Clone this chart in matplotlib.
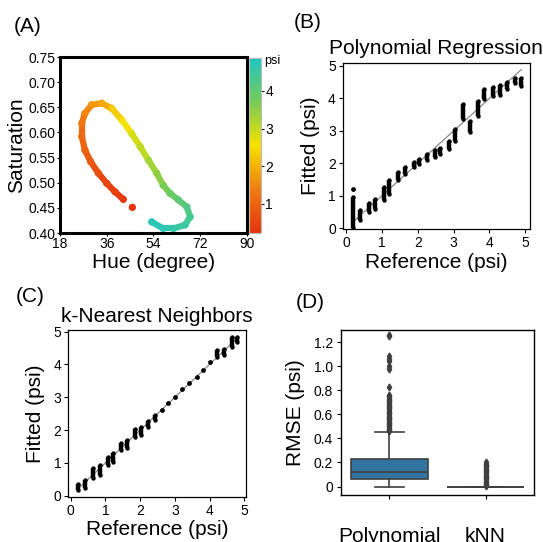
import matplotlib
matplotlib.use("Agg")
import matplotlib.pyplot as plt
from matplotlib.colors import LinearSegmentedColormap
from matplotlib.collections import LineCollection
import numpy as np

plt.rcParams['font.family'] = ['Liberation Sans', 'DejaVu Sans']

# (A) hue / saturation track, coloured by pressure
hue = [45.9, 42.4, 39.2, 36.0, 32.8, 29.8, 27.6, 26.4, 26.4, 27.6, 30.2, 34.1, 37.9, 41.8,
       45.6, 48.9, 52.1, 55.3, 57.8, 60.4, 63.6, 66.9, 68.2, 66.2, 61.7, 57.8, 53.4]
sat = [0.451, 0.467, 0.482, 0.499, 0.519, 0.542, 0.565, 0.592, 0.618, 0.638, 0.655, 0.658,
       0.648, 0.625, 0.598, 0.572, 0.545, 0.519, 0.495, 0.479, 0.466, 0.452, 0.432, 0.416,
       0.409, 0.409, 0.422]
psi = [0.25, 0.35, 0.45, 0.55, 0.7, 0.85, 1.0, 1.15, 1.3, 1.5, 1.7, 1.95, 2.3, 2.6,
       2.85, 3.05, 3.3, 3.5, 3.7, 3.85, 4.05, 4.2, 4.35, 4.5, 4.6, 4.7, 4.8]
cbar_ticks = [1, 2, 3, 4]

# (B) polynomial regression: reference value, fitted min, fitted max
poly_ref = [0.2, 0.4, 0.63, 0.82, 1.05, 1.19, 1.45, 1.65, 1.89, 2.04, 2.26, 2.47,
            2.63, 2.86, 3.05, 3.25, 3.47, 3.68, 3.86, 4.09, 4.30, 4.49, 4.72, 4.89]
poly_lo = [0.0, 0.26, 0.51, 0.61, 0.87, 1.07, 1.48, 1.68, 1.89, 1.99, 2.09, 2.19,
           2.30, 2.45, 2.70, 3.37, 2.96, 3.47, 3.98, 4.08, 4.11, 4.29, 4.49, 4.39]
poly_hi = [0.97, 0.56, 0.77, 0.90, 1.28, 1.48, 1.73, 1.89, 2.04, 2.14, 2.28, 2.40,
           2.47, 2.70, 3.06, 3.83, 3.32, 3.93, 4.29, 4.36, 4.42, 4.52, 4.64, 4.64]
poly_extra_x = [0.2]
poly_extra_y = [1.22]

# (C) k-nearest neighbours
knn_ref = [0.22, 0.41, 0.65, 0.84, 1.06, 1.23, 1.44, 1.61, 1.85, 2.02, 2.24, 2.43,
           2.62, 2.81, 3.00, 3.22, 3.42, 3.63, 3.80, 4.01, 4.22, 4.41, 4.64, 4.80]
knn_lo = [0.17, 0.22, 0.53, 0.63, 0.93, 1.04, 1.39, 1.44, 1.80, 1.85, 2.10, 2.30,
          2.61, 2.83, 3.02, 3.25, 3.42, 3.62, 3.83, 4.06, 4.23, 4.28, 4.54, 4.69]
knn_hi = [0.36, 0.48, 0.83, 0.93, 1.19, 1.29, 1.61, 1.70, 2.02, 2.10, 2.28, 2.46,
          2.61, 2.83, 3.02, 3.25, 3.42, 3.62, 3.83, 4.06, 4.44, 4.46, 4.84, 4.84]

# (D) RMSE box plots
models = ['Polynomial', 'kNN']
poly_box = [0.0, 0.065, 0.12, 0.225, 0.455]  # whislo, q1, med, q3, whishi
knn_box = [0.0, 0.0, 0.0, 0.0, 0.0]
poly_fliers = [0.46, 0.47, 0.48, 0.49, 0.50, 0.51, 0.52, 0.53, 0.54, 0.55, 0.56, 0.57,
               0.58, 0.59, 0.60, 0.61, 0.62, 0.63, 0.64, 0.65, 0.66, 0.67, 0.68, 0.69,
               0.70, 0.71, 0.72, 0.73, 0.74, 0.75, 0.76, 0.83, 0.98, 1.00, 1.04, 1.06,
               1.08, 1.25, 1.26]
knn_fliers = [0.005, 0.01, 0.02, 0.03, 0.04, 0.05, 0.06, 0.07, 0.08, 0.09, 0.10, 0.11,
              0.12, 0.13, 0.14, 0.15, 0.16, 0.17, 0.18, 0.19, 0.20]

W, H = 543, 542
fig = plt.figure(figsize=(W / 100, H / 100), dpi=100)


def box(l, t, r, b):
    return [l / W, 1 - b / H, (r - l) / W, (b - t) / H]


cmap = LinearSegmentedColormap.from_list(
    'psi', ['#e4340c', '#f07c12', '#f7e200', '#76cc56', '#1fc6c4'])

# ---- (A)
axA = fig.add_axes(box(60, 57, 246.7, 233))
pts = np.column_stack([hue, sat])
segs = np.stack([pts[1:-1], pts[2:]], axis=1)
lc = LineCollection(segs, cmap=cmap, linewidths=4.5, capstyle='round')
lc.set_array(np.array(psi[1:-1]))
lc.set_clim(0.23, 4.87)
axA.add_collection(lc)
sc = axA.scatter(hue, sat, c=psi, cmap=cmap, vmin=0.23, vmax=4.87, s=28, linewidths=0)
axA.set_xlim(18, 90)
axA.set_ylim(0.40, 0.75)
axA.set_xticks([18, 36, 54, 72, 90])
axA.set_yticks([0.40, 0.45, 0.50, 0.55, 0.60, 0.65, 0.70, 0.75])
axA.set_yticklabels(['%.2f' % v for v in axA.get_yticks()])
for s in axA.spines.values():
    s.set_linewidth(2.2)
axA.tick_params(labelsize=10, length=2, pad=1)
axA.set_xlabel('Hue (degree)', fontsize=15, labelpad=1)
axA.set_ylabel('Saturation', fontsize=15, labelpad=2)

cax = fig.add_axes(box(248.5, 58, 261, 233))
cb = fig.colorbar(sc, cax=cax, ticks=cbar_ticks)
cb.outline.set_edgecolor('#bbbbbb')
cax.tick_params(labelsize=10, length=2, pad=1)
cax.text(1.25, 0.985, 'psi', transform=cax.transAxes, fontsize=9, va='center')


def scatter_panel(ax, ref, lo, hi, title):
    ax.vlines(ref, lo, hi, colors='black', linewidth=3.2)
    ax.scatter(ref, lo, s=10, color='black', linewidths=0)
    ax.scatter(ref, hi, s=10, color='black', linewidths=0)
    ax.plot([ref[0], ref[-1]], [ref[0], ref[-1]], color='#888888', linewidth=0.9, zorder=0)
    ax.set_xticks(range(6))
    ax.set_yticks(range(6))
    ax.tick_params(labelsize=10, length=3, pad=2)
    for s in ax.spines.values():
        s.set_linewidth(0.9)
    ax.set_xlabel('Reference (psi)', fontsize=15, labelpad=2)
    ax.set_ylabel('Fitted (psi)', fontsize=15, labelpad=6)
    ax.set_title(title, fontsize=15, pad=6)


# ---- (B)
axB = fig.add_axes(box(342.7, 62.7, 530, 229.3))
scatter_panel(axB, poly_ref, poly_lo, poly_hi, 'Polynomial Regression')
axB.scatter(poly_extra_x, poly_extra_y, s=6, color='black')
axB.set_xlim(-0.09, 5.13)
axB.set_ylim(-0.03, 5.10)

# ---- (C)
axC = fig.add_axes(box(68.3, 330, 246, 496.7))
scatter_panel(axC, knn_ref, knn_lo, knn_hi, 'k-Nearest Neighbors')
axC.set_xlim(-0.07, 5.05)
axC.set_ylim(-0.03, 5.05)

# ---- (D)
axD = fig.add_axes(box(341.3, 330, 533.7, 495))
stats = []
for b, fl in zip([poly_box, knn_box], [poly_fliers, knn_fliers]):
    stats.append(dict(whislo=b[0], q1=b[1], med=b[2], q3=b[3], whishi=b[4], fliers=fl))
gray = '#3f3f3f'
axD.bxp(stats, positions=[0, 1], widths=0.8, capwidths=0.3, patch_artist=True,
        boxprops=dict(facecolor='#3274a1', edgecolor=gray, linewidth=1.2),
        medianprops=dict(color=gray, linewidth=1.2),
        whiskerprops=dict(color=gray, linewidth=1.2),
        capprops=dict(color=gray, linewidth=1.2),
        flierprops=dict(marker='d', markersize=3.5, markerfacecolor=gray,
                        markeredgecolor=gray))
axD.set_xlim(-0.5, 1.5)
axD.set_ylim(-0.07, 1.30)
axD.set_xticks([0, 1])
axD.set_xticklabels(models)
axD.set_yticks([0, 0.2, 0.4, 0.6, 0.8, 1.0, 1.2])
axD.set_yticklabels(['0', '0.2', '0.4', '0.6', '0.8', '1.0', '1.2'])
axD.tick_params(axis='y', labelsize=10, length=3, pad=3)
axD.tick_params(axis='x', labelsize=15, length=3, pad=20)
for s in axD.spines.values():
    s.set_linewidth(1.0)
axD.set_ylabel('RMSE (psi)', fontsize=15, labelpad=6)

# panel letters
fig.text(14 / W, 1 - 27 / H, '(A)', fontsize=15, va='center')
fig.text(294 / W, 1 - 23 / H, '(B)', fontsize=15, va='center')
fig.text(16 / W, 1 - 297 / H, '(C)', fontsize=15, va='center')
fig.text(296 / W, 1 - 302 / H, '(D)', fontsize=15, va='center')

fig.savefig('out.png', dpi=100)
